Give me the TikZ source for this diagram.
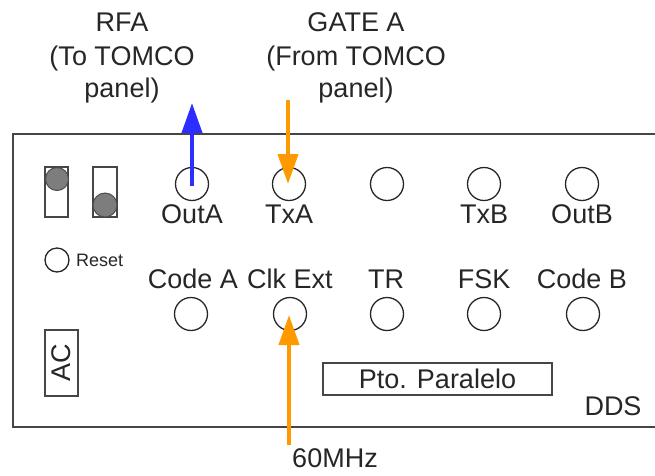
\documentclass[tikz,border=0pt]{standalone}
\usepackage{fontspec}
\setmainfont{Liberation Sans}
\usetikzlibrary{arrows.meta}
\definecolor{arrblue}{RGB}{45,45,255}
\definecolor{arrorange}{RGB}{255,153,0}
\definecolor{edge}{RGB}{70,70,70}
\definecolor{knob}{RGB}{125,125,125}
\begin{document}
\begin{tikzpicture}[x=1pt,y=-1pt,
  lbl/.style={inner sep=0pt,anchor=base,font=\fontsize{27}{32}\selectfont,text=black!85},
  small/.style={inner sep=0pt,anchor=west,font=\fontsize{18}{22}\selectfont,text=black!85},
  jack/.style={circle,draw=black!85,line width=1.3pt,minimum size=33pt,inner sep=0pt},
  bluearr/.style={draw=arrblue,line width=4pt,-{Triangle[length=30pt,width=20pt]}},
  orgarr/.style={draw=arrorange,line width=4pt,-{Triangle[length=30pt,width=20pt]}},
  box/.style={draw=edge,line width=1.6pt}]
\useasboundingbox (0,0) rectangle (655,475);
% main panel
\draw[edge,line width=2pt] (660,134) -- (12.5,134) -- (12.5,427) -- (660,427);
% switches
\draw[box,line width=1.3pt] (45,167) rectangle (68,217);
\node[circle,fill=knob,draw=black!70,line width=1pt,minimum size=23pt,inner sep=0pt] (k1) at (57,179) {};
\draw[box,line width=1.3pt] (93,167) rectangle (117,217);
\node[circle,fill=knob,draw=black!70,line width=1pt,minimum size=24pt,inner sep=0pt] (k2) at (105,205) {};
% reset
\node[circle,draw=black!85,line width=1.3pt,minimum size=24pt,inner sep=0pt] (rst) at (57,260) {};
\node[small] (rsttxt) at (76,260) {Reset};
% AC
\node[box,line width=1.3pt,minimum width=33pt,minimum height=66pt,inner sep=0pt] (ac) at (61.5,363) {};
\node[inner sep=0pt,rotate=90,font=\fontsize{27}{32}\selectfont,text=black!85] (actxt) at (61.5,363) {AC};
% top row jacks
\node[jack] (outa) at (192,184) {};
\node[jack] (txa) at (289,184) {};
\node[jack] (j3) at (387,184) {};
\node[jack] (txb) at (484,184) {};
\node[jack] (outb) at (582,184) {};
\node[lbl] (loutA) at (192,223) {OutA};
\node[lbl] (ltxA) at (289,223) {TxA};
\node[lbl] (ltxB) at (484,223) {TxB};
\node[lbl] (loutB) at (582,223) {OutB};
% bottom row
\node[lbl] (lcodeA) at (193,288) {Code A};
\node[lbl] (lclk) at (290,288) {Clk Ext};
\node[lbl] (ltr) at (386,288) {TR};
\node[lbl] (lfsk) at (484,288) {FSK};
\node[lbl] (lcodeB) at (582,288) {Code B};
\node[jack] (codea) at (191,314) {};
\node[jack] (clk) at (290,314) {};
\node[jack] (tr) at (387,314) {};
\node[jack] (fsk) at (484,314) {};
\node[jack] (codeb) at (583,314) {};
% parallel port
\node[box,minimum width=229pt,minimum height=32pt,inner sep=0pt] (pto) at (437.5,379) {};
\node[inner sep=0pt,font=\fontsize{27}{32}\selectfont,text=black!85] (ptotxt) at (437.5,379) {Pto. Paralelo};
\node[lbl] (dds) at (613,415) {DDS};
% top labels
\node[lbl] (rfa1) at (122,31) {RFA};
\node[lbl] (rfa2) at (122,65) {(To TOMCO};
\node[lbl] (rfa3) at (122,97) {panel)};
\node[lbl] (gate1) at (356,31) {GATE A};
\node[lbl] (gate2) at (356,65) {(From TOMCO};
\node[lbl] (gate3) at (356,97) {panel)};
\node[lbl] (mhz) at (335,467) {60MHz};
% arrows
\coordinate (bluetip) at (192,103);
\coordinate (gatestart) at (288,100);
\coordinate (clkstart) at (289,445);
\draw[bluearr] (outa.center) ++(0,2) -- (bluetip);
\draw[orgarr] (gatestart) -- (288,184);
\draw[orgarr] (clkstart) -- (289,315);
\end{tikzpicture}
\end{document}
